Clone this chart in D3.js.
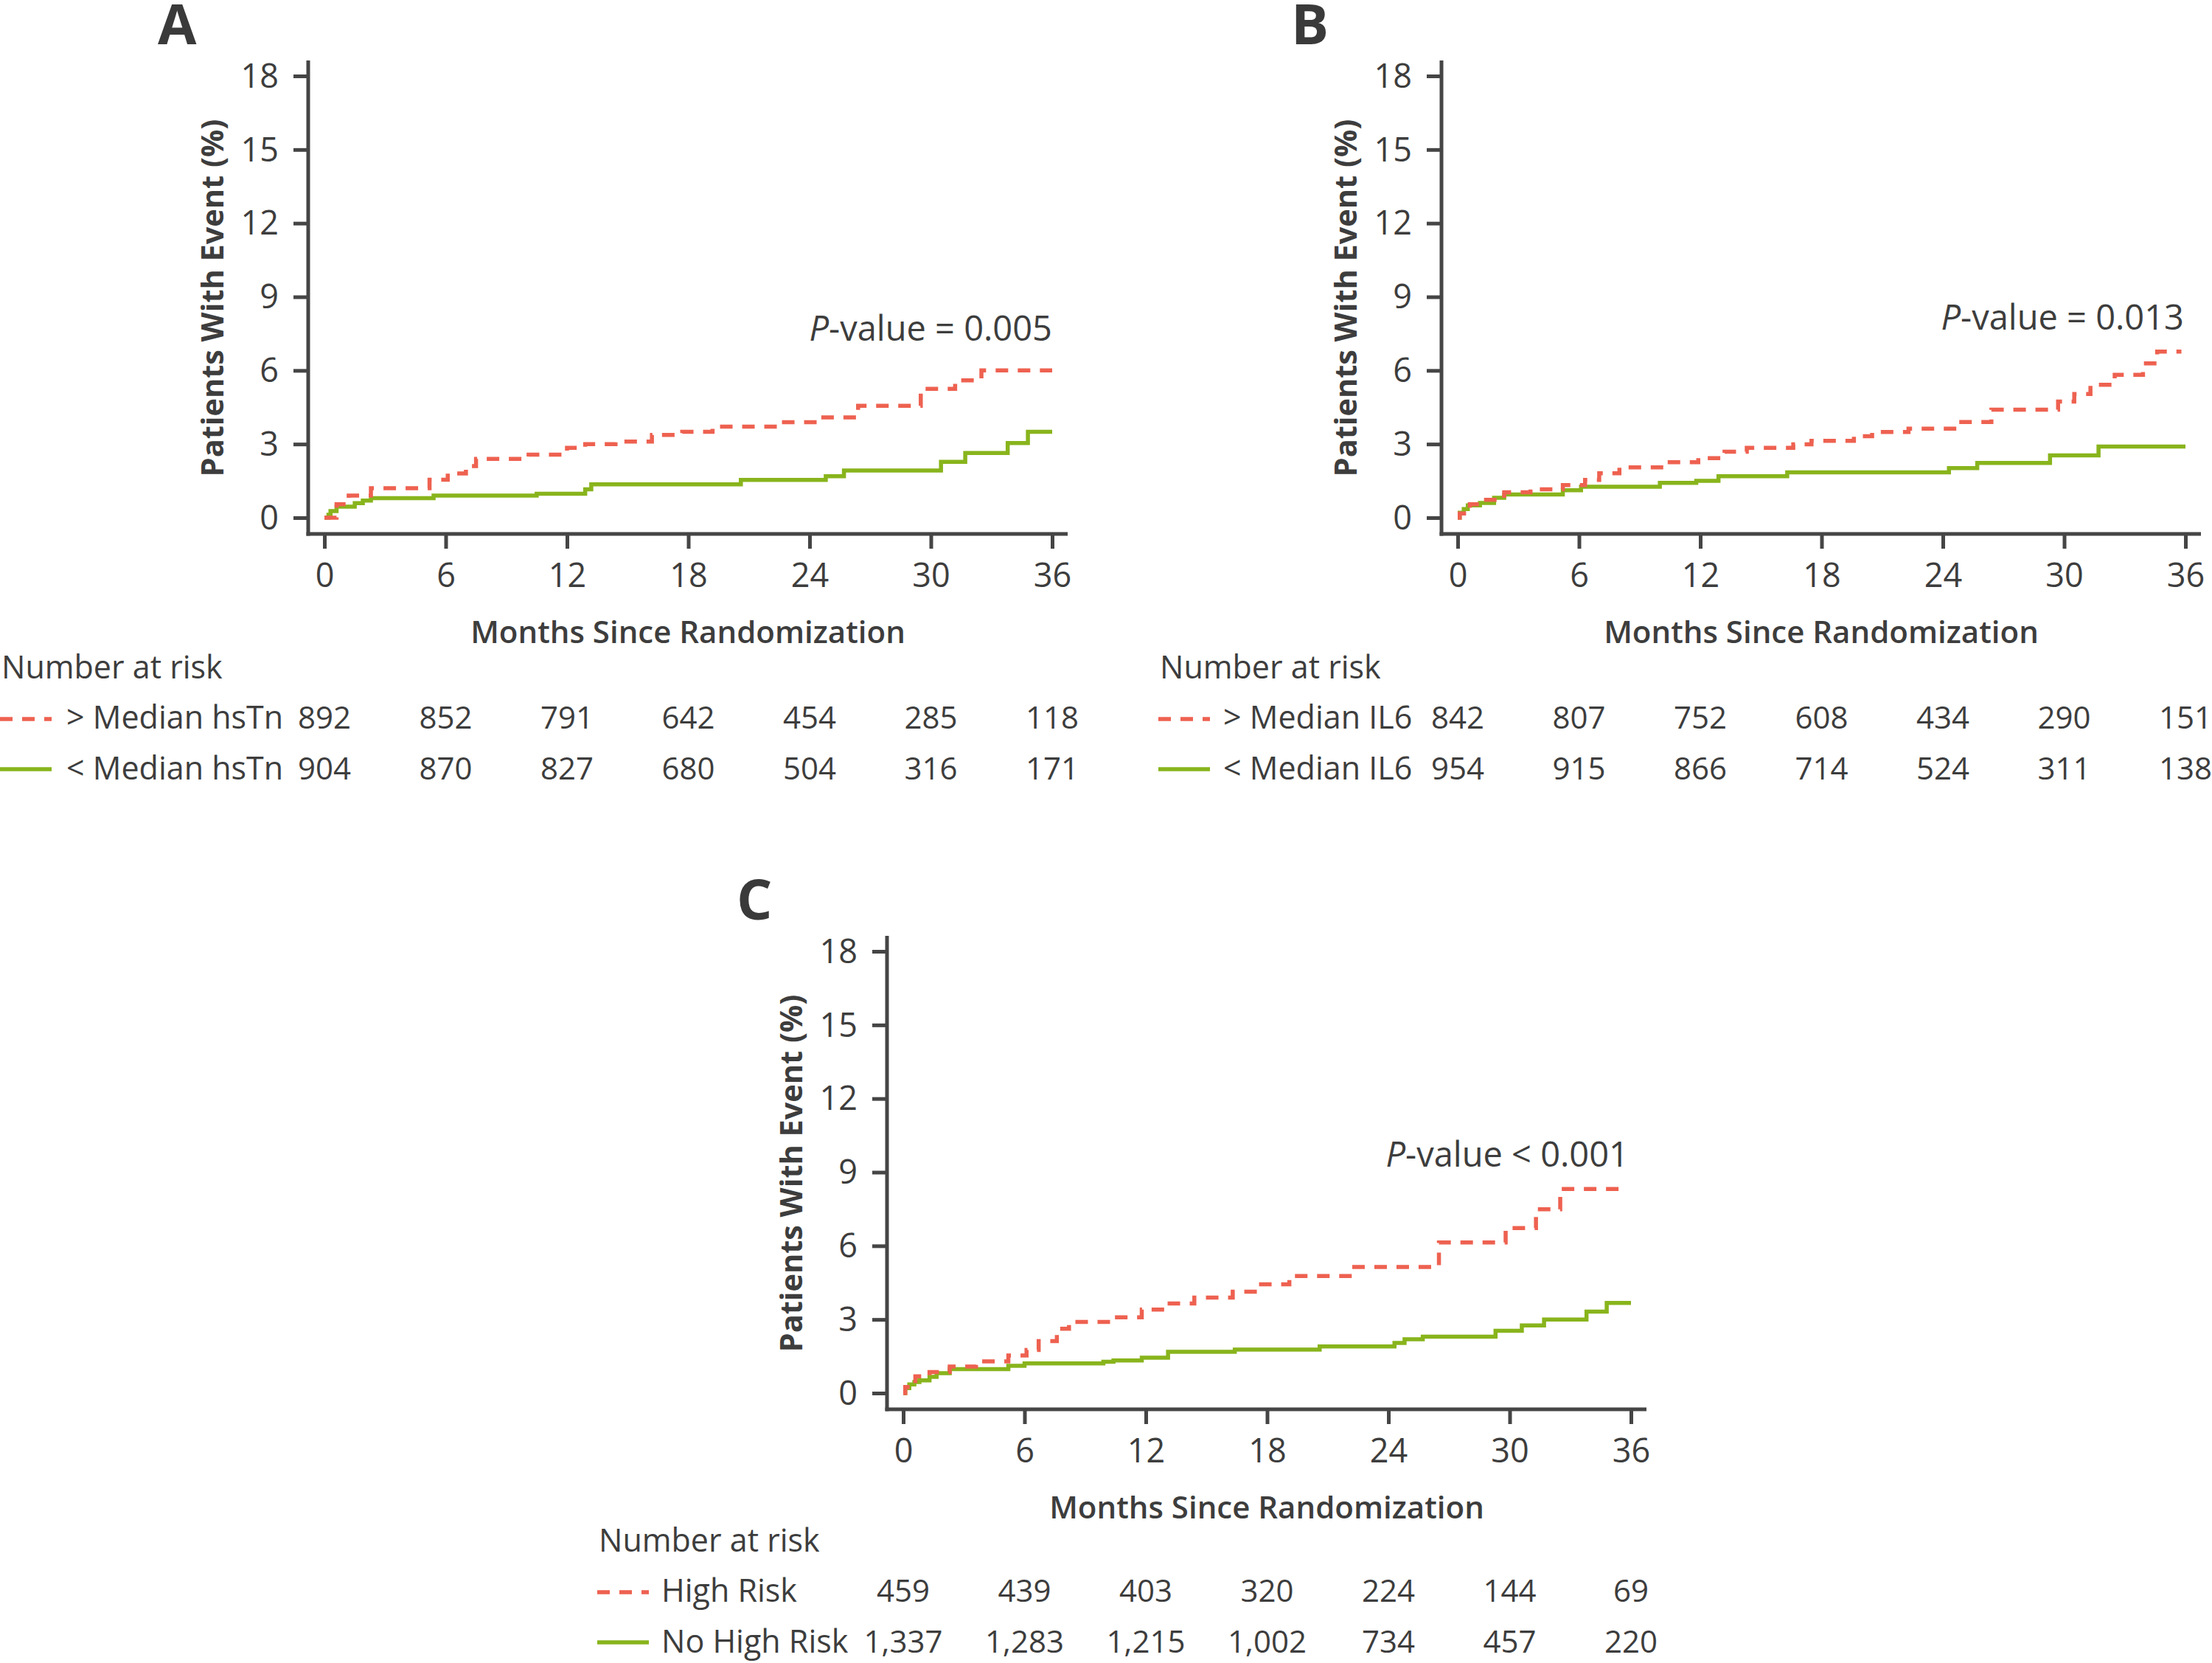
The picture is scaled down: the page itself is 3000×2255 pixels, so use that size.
<!DOCTYPE html>
<html>
<head>
<meta charset="utf-8">
<script src="https://cdn.jsdelivr.net/npm/d3@7"></script>
<style>
  html, body { margin: 0; padding: 0; background: #fff; }
  svg { display: block; }
  text { font-family: "Open Sans", "Noto Sans", sans-serif; fill: #3d3d3d; }
</style>
</head>
<body>
<svg id="chart" width="3000" height="2255"></svg>
<script>
// ---------------- DATA ----------------
const monthTicks = [0, 6, 12, 18, 24, 30, 36];
const pctTicks = [0, 3, 6, 9, 12, 15, 18];

// Panel A (hsTn)
const aHighT = [0, 0.6, 1.2, 2.3, 5.2, 6.1, 7.0, 7.5, 10.1, 12.0, 12.9, 14.4, 16.2, 17.7, 19.2, 22.4, 24.5, 26.4, 29.5, 31.2, 32.5, 36];
const aHighY = [0, 0.55, 0.9, 1.2, 1.55, 1.8, 2.1, 2.4, 2.57, 2.85, 3.0, 3.1, 3.37, 3.5, 3.71, 3.89, 4.09, 4.56, 5.25, 5.6, 6.0, 6.0];
const aLowT = [0, 0.2, 0.3, 0.6, 1.5, 1.9, 2.3, 5.4, 10.5, 12.9, 13.2, 20.6, 24.8, 25.7, 30.5, 31.7, 33.8, 34.8, 36];
const aLowY = [0, 0.12, 0.27, 0.45, 0.59, 0.7, 0.8, 0.9, 0.98, 1.16, 1.36, 1.54, 1.69, 1.92, 2.28, 2.64, 3.04, 3.5, 3.5];
const aHighRisk = ["892", "852", "791", "642", "454", "285", "118"];
const aLowRisk = ["904", "870", "827", "680", "504", "316", "171"];
const aLabels = ["> Median hsTn", "< Median hsTn"];
const aPText = ["P", "-value = 0.005"];

// Panel B (IL6)
const bHighT = [0, 0.1, 0.6, 1.2, 2.3, 3.6, 5.2, 6.3, 7.0, 8.0, 10.3, 11.9, 13.2, 14.3, 16.6, 17.5, 19.6, 20.5, 22.3, 24.8, 26.4, 29.7, 30.5, 31.3, 32.5, 33.9, 34.6, 35.8];
const bHighY = [0, 0.17, 0.55, 0.73, 1.04, 1.16, 1.33, 1.54, 1.81, 2.05, 2.26, 2.43, 2.69, 2.85, 2.99, 3.13, 3.32, 3.49, 3.63, 3.9, 4.4, 4.73, 5.04, 5.42, 5.82, 6.29, 6.77, 6.77];
const bLowT = [0, 0.1, 0.3, 0.5, 1.1, 1.8, 2.3, 5.2, 6.1, 10.0, 11.8, 12.9, 16.3, 24.3, 25.7, 29.3, 31.7, 36];
const bLowY = [0, 0.2, 0.35, 0.5, 0.6, 0.81, 0.95, 1.12, 1.26, 1.42, 1.5, 1.69, 1.85, 2.02, 2.23, 2.54, 2.9, 2.9];
const bHighRisk = ["842", "807", "752", "608", "434", "290", "151"];
const bLowRisk = ["954", "915", "866", "714", "524", "311", "138"];
const bLabels = ["> Median IL6", "< Median IL6"];
const bPText = ["P", "-value = 0.013"];

// Panel C (combined risk)
const cHighT = [0, 0.1, 0.6, 1.3, 2.3, 3.6, 5.2, 6.1, 6.7, 7.6, 8.2, 10.4, 11.8, 13.0, 14.4, 16.3, 17.6, 19.1, 22.2, 26.5, 29.8, 31.3, 32.5, 35.8];
const cHighY = [0, 0.25, 0.68, 0.86, 1.08, 1.29, 1.53, 1.76, 2.12, 2.62, 2.9, 3.09, 3.4, 3.65, 3.89, 4.13, 4.43, 4.77, 5.14, 6.14, 6.72, 7.49, 8.32, 8.32];
const cLowT = [0, 0.1, 0.3, 0.55, 0.8, 1.3, 1.65, 2.3, 5.2, 6.0, 9.9, 10.4, 11.8, 13.1, 16.4, 20.6, 24.3, 24.8, 25.7, 29.3, 30.6, 31.7, 33.8, 34.8, 36];
const cLowY = [0, 0.2, 0.35, 0.45, 0.52, 0.66, 0.81, 0.98, 1.11, 1.21, 1.28, 1.33, 1.44, 1.68, 1.77, 1.9, 2.04, 2.19, 2.3, 2.54, 2.76, 3.0, 3.32, 3.67, 3.67];
const cHighRisk = ["459", "439", "403", "320", "224", "144", "69"];
const cLowRisk = ["1,337", "1,283", "1,215", "1,002", "734", "457", "220"];
const cLabels = ["High Risk", "No High Risk"];
const cPText = ["P", "-value < 0.001"];

// ---------------- STYLE / LAYOUT ----------------
const RED = "#EE6150";
const GREEN = "#88B41C";
const AXIS = "#454545";

const svg = d3.select("#chart");

const panels = [
  { letter: "A", dx: 0, dy: 0, highT: aHighT, highY: aHighY, lowT: aLowT, lowY: aLowY,
    highRisk: aHighRisk, lowRisk: aLowRisk, labels: aLabels, ptext: aPText,
    pX: 1427, pY: 462, legX: 0, labX: 90, rowShift: 0 },
  { letter: "B", dx: 1537, dy: 0, highT: bHighT, highY: bHighY, lowT: bLowT, lowY: bLowY,
    highRisk: bHighRisk, lowRisk: bLowRisk, labels: bLabels, ptext: bPText,
    pX: 1425, pY: 447, legX: 1571, labX: 1659, rowShift: 0 },
  { letter: "C", dx: 785, dy: 1187, highT: cHighT, highY: cHighY, lowT: cLowT, lowY: cLowY,
    highRisk: cHighRisk, lowRisk: cLowRisk, labels: cLabels, ptext: cPText,
    pX: 1424, pY: 395, legX: 810, labX: 897, rowShift: -3 }
];

panels.forEach(p => {
  const g = svg.append("g").attr("transform", `translate(${p.dx},${p.dy})`);

  const x = d3.scaleLinear().domain([0, 36]).range([440, 1427]);
  const y = d3.scaleLinear().domain([0, 18]).range([702, 103]);

  // Panel letter
  g.append("text").attr("x", 214).attr("y", 60)
    .style("font-size", "76px").style("font-weight", "700").style("fill", "#3a3a3a")
    .text(p.letter);

  // Axis lines (offset frame)
  g.append("line").attr("x1", 418).attr("x2", 418).attr("y1", 82).attr("y2", 726.5)
    .attr("stroke", AXIS).attr("stroke-width", 5);
  g.append("line").attr("x1", 415.5).attr("x2", 1448).attr("y1", 724).attr("y2", 724)
    .attr("stroke", AXIS).attr("stroke-width", 5);

  // Y axis ticks via d3.axisLeft
  const yAxis = d3.axisLeft(y).tickValues(pctTicks).tickSize(20).tickPadding(20);
  const yg = g.append("g").attr("transform", "translate(418,0)").call(yAxis);
  yg.select(".domain").remove();
  yg.selectAll(".tick line").attr("stroke", AXIS).attr("stroke-width", 5);
  yg.selectAll(".tick text").style("font-size", "45px").style("fill", "#3d3d3d")
    .attr("font-family", null).attr("dy", "0.34em");

  // X axis ticks via d3.axisBottom
  const xAxis = d3.axisBottom(x).tickValues(monthTicks).tickSize(20).tickPadding(20);
  const xg = g.append("g").attr("transform", "translate(0,724)").call(xAxis);
  xg.select(".domain").remove();
  xg.selectAll(".tick line").attr("stroke", AXIS).attr("stroke-width", 5);
  xg.selectAll(".tick text").style("font-size", "45px").style("fill", "#3d3d3d")
    .attr("font-family", null).attr("dy", "0.71em");

  // Axis titles
  g.append("text")
    .attr("transform", "translate(303,404) rotate(-90)")
    .attr("text-anchor", "middle")
    .style("font-size", "41.5px").style("font-weight", "700")
    .text("Patients With Event (%)");
  g.append("text").attr("x", 933).attr("y", 872).attr("text-anchor", "middle")
    .style("font-size", "42px").style("font-weight", "600")
    .text("Months Since Randomization");

  // P-value
  const pt = g.append("text").attr("x", p.pX).attr("y", p.pY).attr("text-anchor", "end")
    .style("font-size", "47px");
  pt.append("tspan").style("font-style", "italic").text(p.ptext[0]);
  pt.append("tspan").text(p.ptext[1]);

  // Curves
  const line = d3.line().x(d => x(d[0])).y(d => y(d[1])).curve(d3.curveStepAfter);
  const lowPts = p.lowT.map((t, i) => [t, p.lowY[i]]);
  const highPts = p.highT.map((t, i) => [t, p.highY[i]]);
  g.append("path").datum(lowPts).attr("d", line).attr("fill", "none")
    .attr("stroke", GREEN).attr("stroke-width", 5.5);
  g.append("path").datum(highPts).attr("d", line).attr("fill", "none")
    .attr("stroke", RED).attr("stroke-width", 5.5).attr("stroke-dasharray", "17,13");

  // Number at risk table
  const lx = p.legX - p.dx;
  const labx = p.labX - p.dx;
  const s = p.rowShift;
  g.append("text").attr("x", lx + 2).attr("y", 920 + s).style("font-size", "43px")
    .text("Number at risk");
  const rows = [
    { vals: p.highRisk, label: p.labels[0], color: RED, dash: "17,13", yb: 988 + s, yl: 975 + s },
    { vals: p.lowRisk, label: p.labels[1], color: GREEN, dash: null, yb: 1057 + s, yl: 1043 + s }
  ];
  rows.forEach(r => {
    g.append("line").attr("x1", lx).attr("x2", lx + 70).attr("y1", r.yl).attr("y2", r.yl)
      .attr("stroke", r.color).attr("stroke-width", 5.5)
      .attr("stroke-dasharray", r.dash);
    g.append("text").attr("x", labx).attr("y", r.yb).style("font-size", "43px").text(r.label);
    g.selectAll(null).data(r.vals).enter().append("text")
      .attr("x", (d, i) => x(monthTicks[i])).attr("y", r.yb)
      .attr("text-anchor", "middle").style("font-size", "42px")
      .text(d => d);
  });
});
</script>
</body>
</html>
